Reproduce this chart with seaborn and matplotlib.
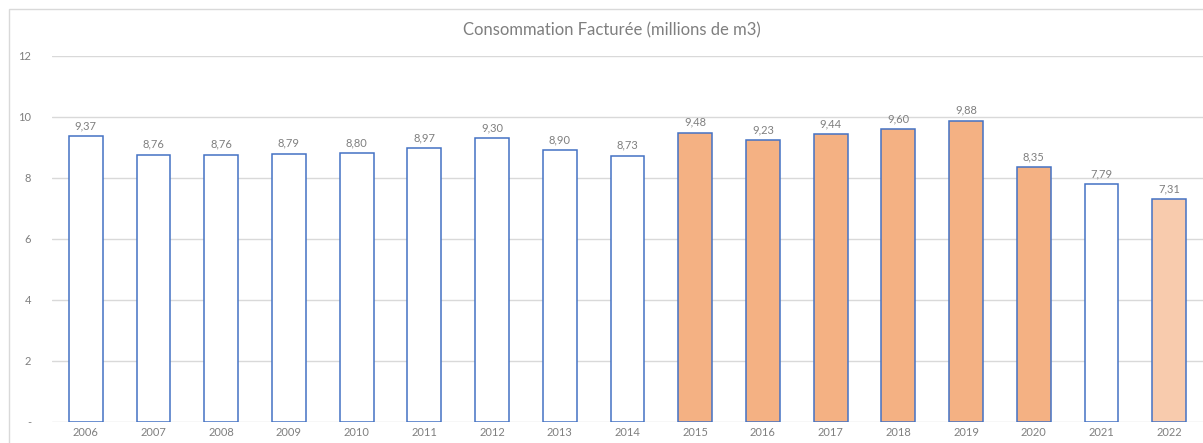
import matplotlib
matplotlib.use("Agg")
import matplotlib.pyplot as plt
from matplotlib.patches import Rectangle
import seaborn as sns
import pandas as pd

years = ["2006", "2007", "2008", "2009", "2010", "2011", "2012", "2013", "2014",
         "2015", "2016", "2017", "2018", "2019", "2020", "2021", "2022"]
consumption = [9.37, 8.76, 8.76, 8.79, 8.80, 8.97, 9.30, 8.90, 8.73,
               9.48, 9.23, 9.44, 9.60, 9.88, 8.35, 7.79, 7.31]
fill_colors = ["#FFFFFF"] * 9 + ["#F4B183"] * 6 + ["#FFFFFF", "#F8CBAD"]
y_ticks = [0, 2, 4, 6, 8, 10, 12]
y_tick_labels = ["-", "2", "4", "6", "8", "10", "12"]
title = "Consommation Facturée (millions de m3)"

sns.set_theme(style="white")
plt.rcParams["font.family"] = ["Lato", "DejaVu Sans"]

text_gray = "#7F7F7F"
df = pd.DataFrame({"annee": years, "conso": consumption})

W, H = 1203, 443
fig = plt.figure(figsize=(W / 100, H / 100), dpi=100)
fig.patch.set_facecolor("white")

# chart frame
fig.patches.append(Rectangle((9 / W, -0.1), 1.2, 1 - 9 / H + 0.1,
                             transform=fig.transFigure, fill=False,
                             edgecolor="#D9D9D9", linewidth=1))

ax = fig.add_axes([52 / W, 21.5 / H, 1 - 52 / W, (421.5 - 56) / H])
sns.barplot(data=df, x="annee", y="conso", hue="annee", palette=fill_colors,
            legend=False, width=0.5, edgecolor="#4472C4", linewidth=1.1,
            saturation=1, ax=ax, zorder=3)

ax.set_ylim(0, 12)
ax.set_xlim(-0.5, len(years) - 0.5)
ax.set_yticks(y_ticks)
ax.set_yticklabels(y_tick_labels)
ax.set_xlabel("")
ax.set_ylabel("")
ax.yaxis.grid(True, color="#D9D9D9", linewidth=1, zorder=0)
ax.set_axisbelow(True)
for s in ["top", "right", "left", "bottom"]:
    ax.spines[s].set_visible(False)
ax.tick_params(axis="both", length=0, labelsize=8, colors=text_gray)
ax.tick_params(axis="y", pad=15)
ax.tick_params(axis="x", pad=4)

for cont in ax.containers:
    ax.bar_label(cont, labels=[f"{v:.2f}".replace(".", ",") for v in cont.datavalues],
                 padding=3.5, fontsize=8, color=text_gray)

fig.text(612 / W, 1 - 30 / H, title, ha="center", va="center",
         fontsize=12, color=text_gray)

fig.savefig("out.png", dpi=100, facecolor="white")
